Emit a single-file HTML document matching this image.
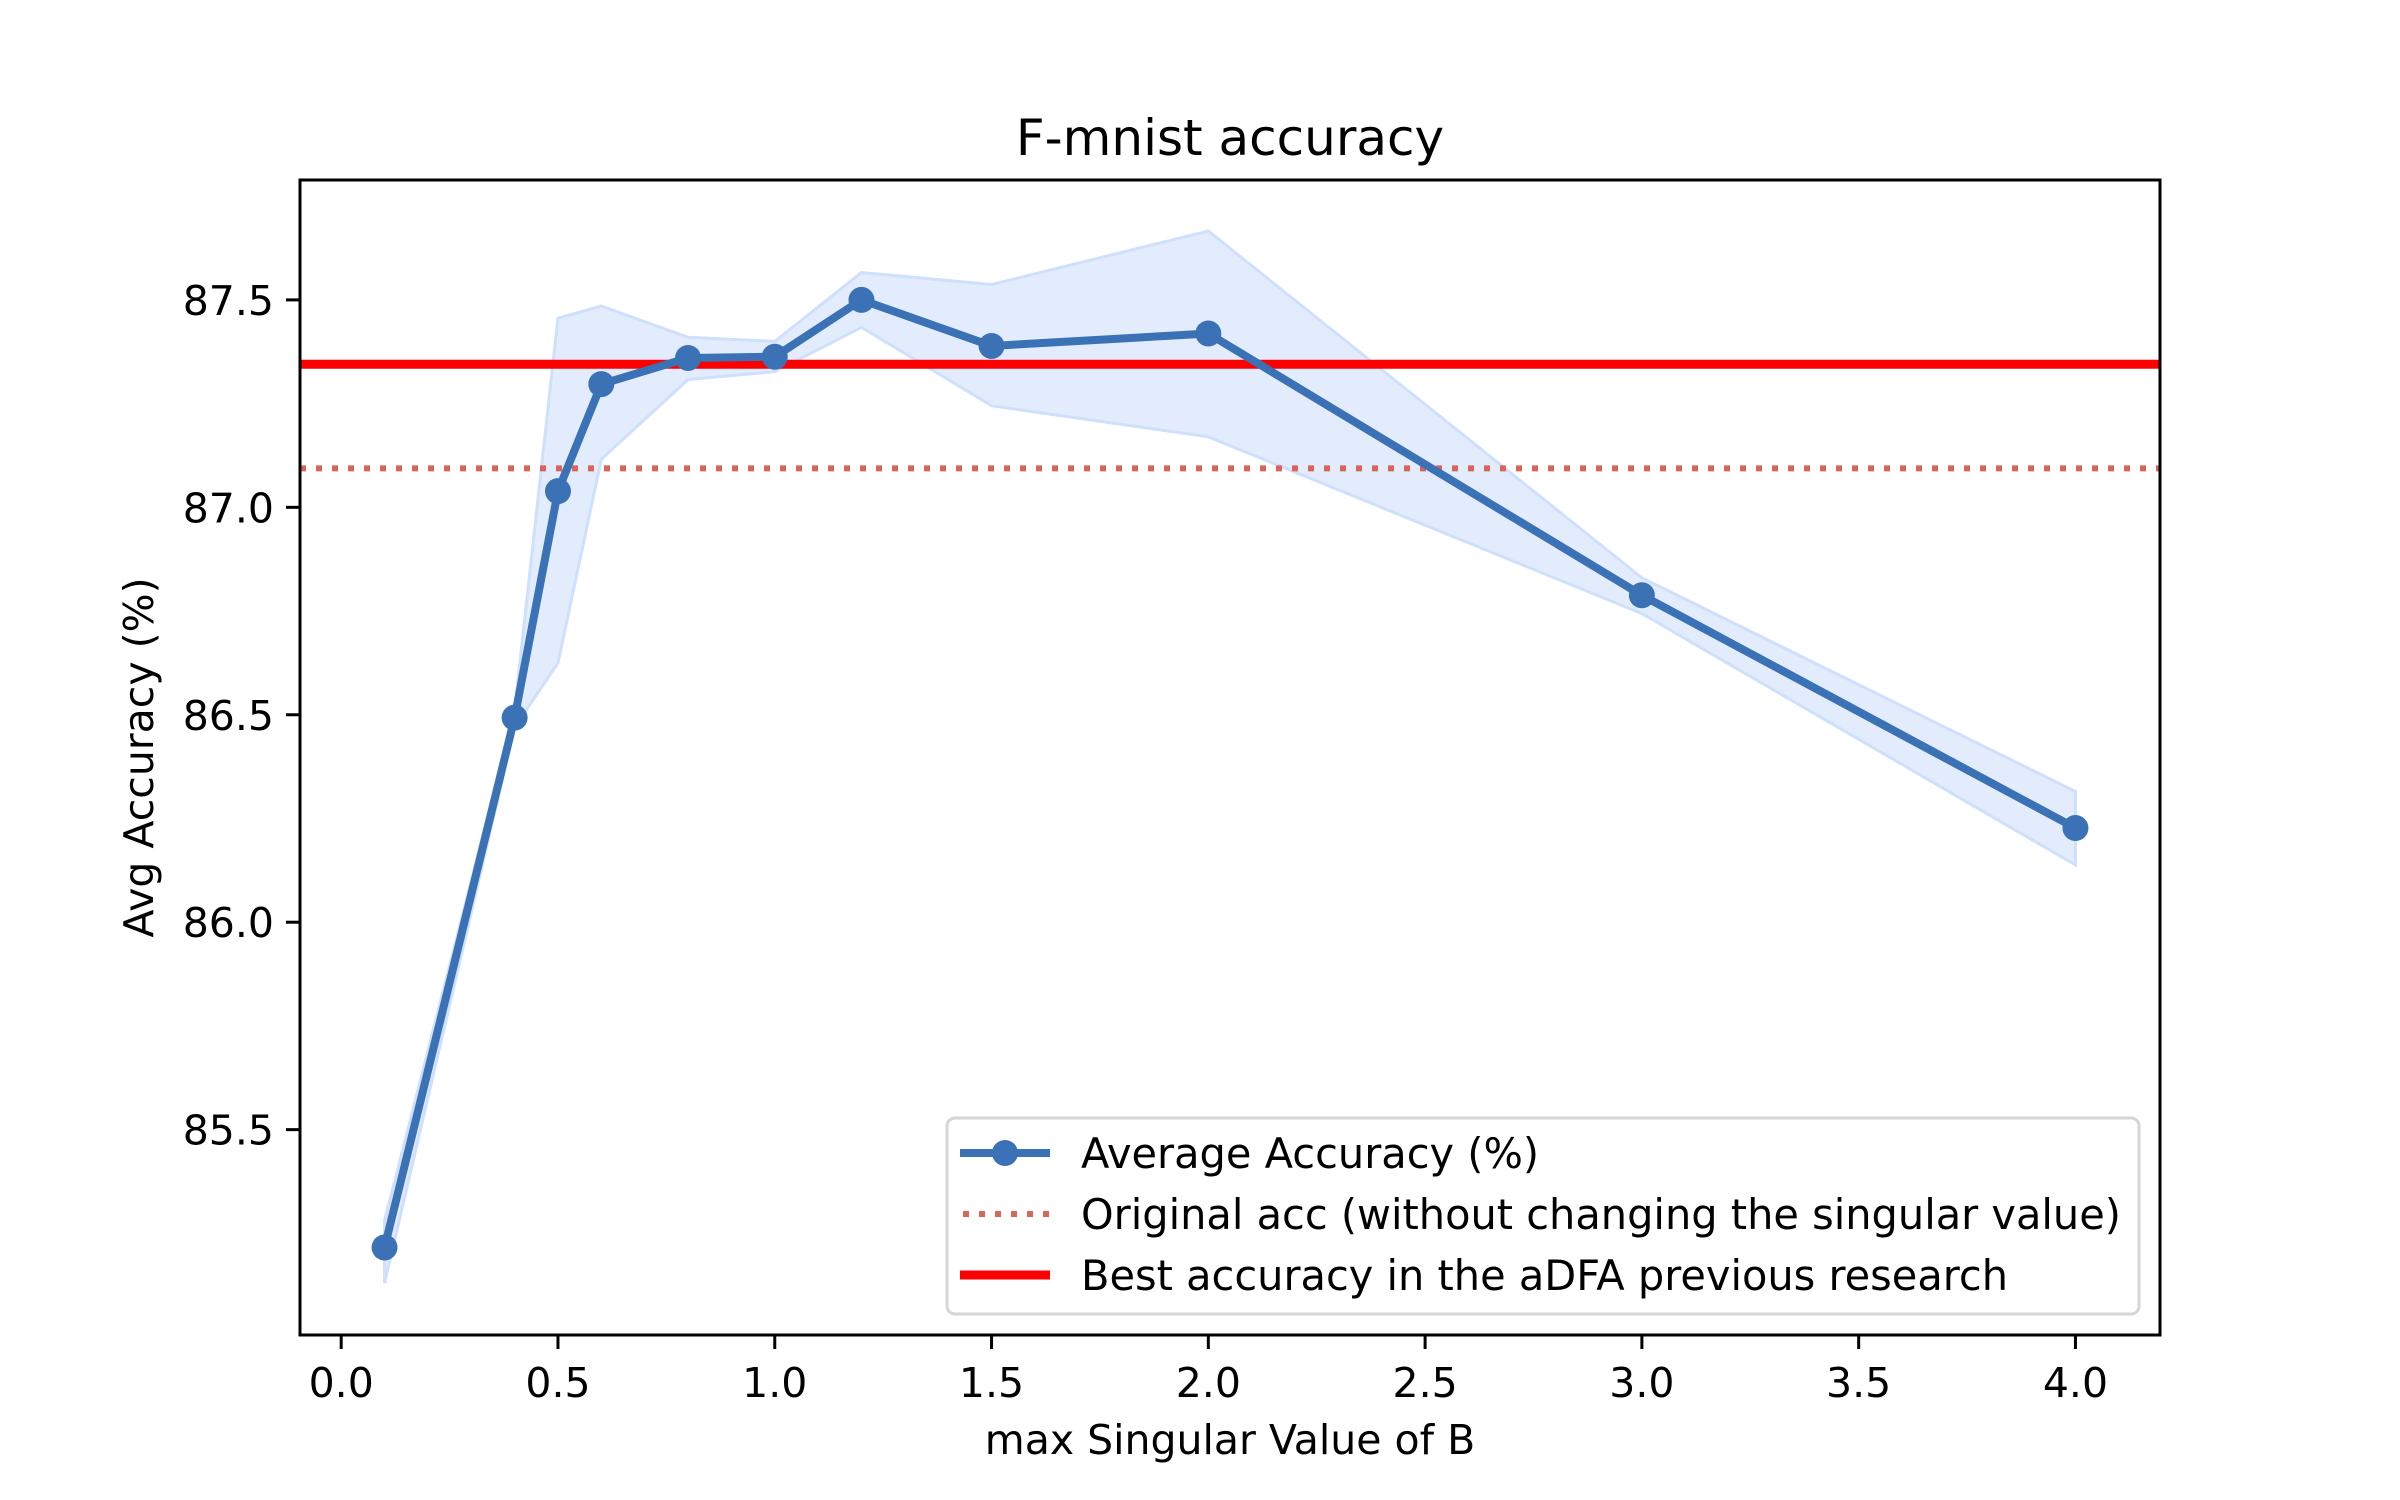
<!DOCTYPE html>
<html><head><meta charset="utf-8"><style>
html,body{margin:0;padding:0;background:#fff;}
svg{display:block;font-family:"DejaVu Sans","Liberation Sans",sans-serif;}
</style></head><body>
<svg id="chart" width="2400" height="1500" viewBox="0 0 2400 1500" xmlns="http://www.w3.org/2000/svg">
<rect width="2400" height="1500" fill="#fff"/>
<g id="plot"></g>
</svg>
<script>
const xs = [0.1,0.4,0.5,0.6,0.8,1.0,1.2,1.5,2.0,3.0,4.0];
const meanAcc = [85.216,86.493,87.039,87.297,87.360,87.363,87.500,87.389,87.419,86.788,86.227];
const upperAcc = [85.28,86.51,87.456,87.485,87.41,87.40,87.566,87.537,87.666,86.83,86.315];
const lowerAcc = [85.13,86.47,86.625,87.116,87.308,87.327,87.434,87.245,87.17,86.744,86.138];
const bestPrev = 87.345;
const originalAcc = 87.094;
const xTicks = [0.0,0.5,1.0,1.5,2.0,2.5,3.0,3.5,4.0];
const yTicks = [85.5,86.0,86.5,87.0,87.5];
const legendLabels = ["Average Accuracy (%)","Original acc (without changing the singular value)","Best accuracy in the aDFA previous research"];

const L=300,R=2160,T=180,B=1335;
const xmin=-0.095,xmax=4.195,ymin=85.005,ymax=87.789;
const X=v=>L+(v-xmin)/(xmax-xmin)*(R-L);
const Y=v=>B-(v-ymin)/(ymax-ymin)*(B-T);
const NS="http://www.w3.org/2000/svg";
const g=document.getElementById('plot');
function mk(tag,attrs,parent){const e=document.createElementNS(NS,tag);for(const k in attrs)e.setAttribute(k,attrs[k]);(parent||g).appendChild(e);return e;}

let pts=xs.map((x,i)=>X(x)+','+Y(upperAcc[i]));
for(let i=xs.length-1;i>=0;i--)pts.push(X(xs[i])+','+Y(lowerAcc[i]));
const band=mk('polygon',{points:pts.join(' '),fill:'#cfe0fc',stroke:'#cfe0fc','stroke-width':3,'fill-opacity':0.6});



const dl=mk('line',{x1:L,x2:R,y1:Y(originalAcc),y2:Y(originalAcc),stroke:'#d9645a','stroke-width':6,'stroke-dasharray':'6 10'});


const rl=mk('line',{x1:L,x2:R,y1:Y(bestPrev),y2:Y(bestPrev),stroke:'#ff0000','stroke-width':9});



const ml=mk('polyline',{points:xs.map((x,i)=>X(x)+','+Y(meanAcc[i])).join(' '),fill:'none',stroke:'#3a72b5','stroke-width':8,'stroke-linejoin':'round'});


xs.forEach((x,i)=>{const c=mk('circle',{cx:X(x),cy:Y(meanAcc[i]),r:13,fill:'#3a72b5'});

});

const frame=mk('rect',{x:L,y:T,width:R-L,height:B-T,fill:'none',stroke:'#000','stroke-width':3});



xTicks.forEach(t=>{mk('line',{x1:X(t),x2:X(t),y1:B,y2:B+14,stroke:'#000','stroke-width':3});
const tx=mk('text',{x:X(t),y:B+62,'font-size':41,'text-anchor':'middle'});tx.textContent=t.toFixed(1);

});
yTicks.forEach(t=>{mk('line',{x1:L-14,x2:L,y1:Y(t),y2:Y(t),stroke:'#000','stroke-width':3});
const tx=mk('text',{x:L-26,y:Y(t)+15,'font-size':41,'text-anchor':'end'});tx.textContent=t.toFixed(1);

});

const title=mk('text',{x:(L+R)/2,y:155,'font-size':50,'text-anchor':'middle'});title.textContent='F-mnist accuracy';


const xt=mk('text',{x:(L+R)/2,y:1454,'font-size':41,'text-anchor':'middle'});xt.textContent='max Singular Value of B';


const yt=mk('text',{x:0,y:0,'font-size':41,'text-anchor':'middle',transform:'translate(153,'+((T+B)/2)+') rotate(-90)'});yt.textContent='Avg Accuracy (%)';



const lg=mk('g',{});


mk('rect',{x:947,y:1118,width:1192,height:196,rx:8,fill:'#fff','fill-opacity':0.8,stroke:'#d6d6d6','stroke-width':3},lg);
const ly=[1153,1214,1275];
mk('line',{x1:960,x2:1050,y1:ly[0],y2:ly[0],stroke:'#3a72b5','stroke-width':8},lg);
mk('circle',{cx:1005,cy:ly[0],r:13,fill:'#3a72b5'},lg);
mk('line',{x1:963,x2:1050,y1:ly[1],y2:ly[1],stroke:'#d9645a','stroke-width':6,'stroke-dasharray':'6 10'},lg);
mk('line',{x1:960,x2:1050,y1:ly[2],y2:ly[2],stroke:'#ff0000','stroke-width':9},lg);
legendLabels.forEach((s,i)=>{const t=mk('text',{x:1081,y:ly[i]+15,'font-size':41.5},lg);t.textContent=s;

});
</script>
</body></html>
